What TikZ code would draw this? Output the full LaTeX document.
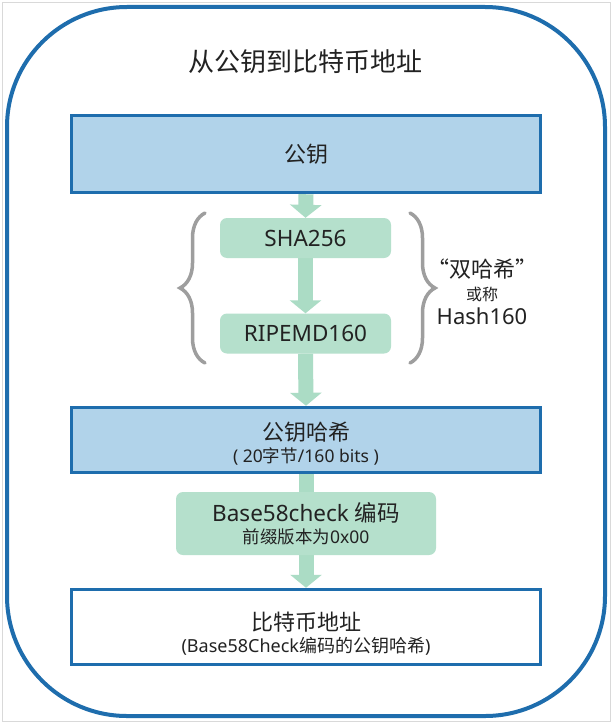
\documentclass[tikz,border=0pt]{standalone}
\usepackage{fontspec}
\setmainfont{Noto Sans}
\newfontfamily\cjk{Noto Sans CJK SC}
\usetikzlibrary{arrows.meta,backgrounds,decorations.pathreplacing}
\definecolor{frameblue}{HTML}{1E6DAD}
\definecolor{boxblue}{HTML}{B1D3EA}
\definecolor{hashgreen}{HTML}{B5E0CC}
\definecolor{flowgreen}{HTML}{ABDCC5}
\definecolor{bracegray}{HTML}{9E9E9E}
\definecolor{inkgray}{HTML}{222222}

\begin{document}
\begin{tikzpicture}[x=1pt,y=-1pt,text=inkgray,
  keybox/.style={draw=frameblue,line width=3.5pt,fill=boxblue,minimum width=469pt,align=center,
    font=\fontsize{22}{22}\selectfont},
  hashbox/.style={fill=hashgreen,rounded corners=7pt,minimum width=171pt,minimum height=40pt,
    font=\fontsize{22.5}{22}\selectfont},
  flow/.style={draw=flowgreen,line width=15pt,-{Triangle[width=31pt,length=13pt]}},
  bracket/.style={draw=bracegray,line width=3.5pt,line cap=round,decorate,decoration={brace,amplitude=25pt}}]
  \useasboundingbox (0,0) rectangle (613,725);
  \draw[black!15,line width=1pt] (2.5,2.5) rectangle (610.5,721.5);
  \draw[frameblue,line width=4pt,rounded corners=120pt] (7,7) rectangle (605,716);
  \node[font=\fontsize{26}{30}\selectfont\cjk] (title) at (305,62) {从公钥到比特币地址};
  \node[keybox,minimum height=77pt] (pk) at (306,154) {\cjk 公钥};
  \node[hashbox] (sha) at (305.5,238) {SHA256};
  \node[hashbox] (ripe) at (305.5,333.5) {RIPEMD160};
  \node[keybox,minimum height=65pt] (pkh) at (306,440)
    {\rule{0pt}{25pt}\cjk 公钥哈希\\\fontsize{17.5}{21}\selectfont ( 20{\cjk 字节}/160 bits )};
  \node[hashbox,minimum width=260pt,minimum height=63pt,align=center] (b58) at (306,523.5)
    {Base58check {\cjk 编码}\\\fontsize{17.5}{21}\selectfont{\cjk 前缀版本为}0x00};
  \node[keybox,fill=white,minimum height=75pt] (addr) at (306,627)
    {\rule{0pt}{31pt}\cjk 比特币地址\\\fontsize{18}{21}\selectfont (Base58Check{\cjk 编码的公钥哈希})};
  \node[align=center,font=\fontsize{22}{23}\selectfont] (dh) at (482,292)
    {{\cjk “双哈希”}\\\fontsize{16}{18}\selectfont{\cjk 或称}\\[1pt]Hash160};
  % braces round the two hash steps
  \coordinate (lb) at (205,363);
  \coordinate (lt) at (205,213);
  \coordinate (rt) at (410,213);
  \coordinate (rb) at (410,363);
  \draw[bracket] (lb) -- (lt);
  \draw[bracket] (rt) -- (rb);
  \begin{scope}[on background layer]
    \fill[white] (0,0) rectangle (613,725);
    \draw[flow] (pk.south) -- (sha.north);
    \draw[flow] (sha.south) -- (ripe.north);
    \draw[flow] (ripe.south) -- (pkh.north);
    \draw[flowgreen,line width=15pt] (pkh.south) -- (b58.north);
    \draw[flow] (b58.south) -- (addr.north);
  \end{scope}
\end{tikzpicture}
\end{document}
